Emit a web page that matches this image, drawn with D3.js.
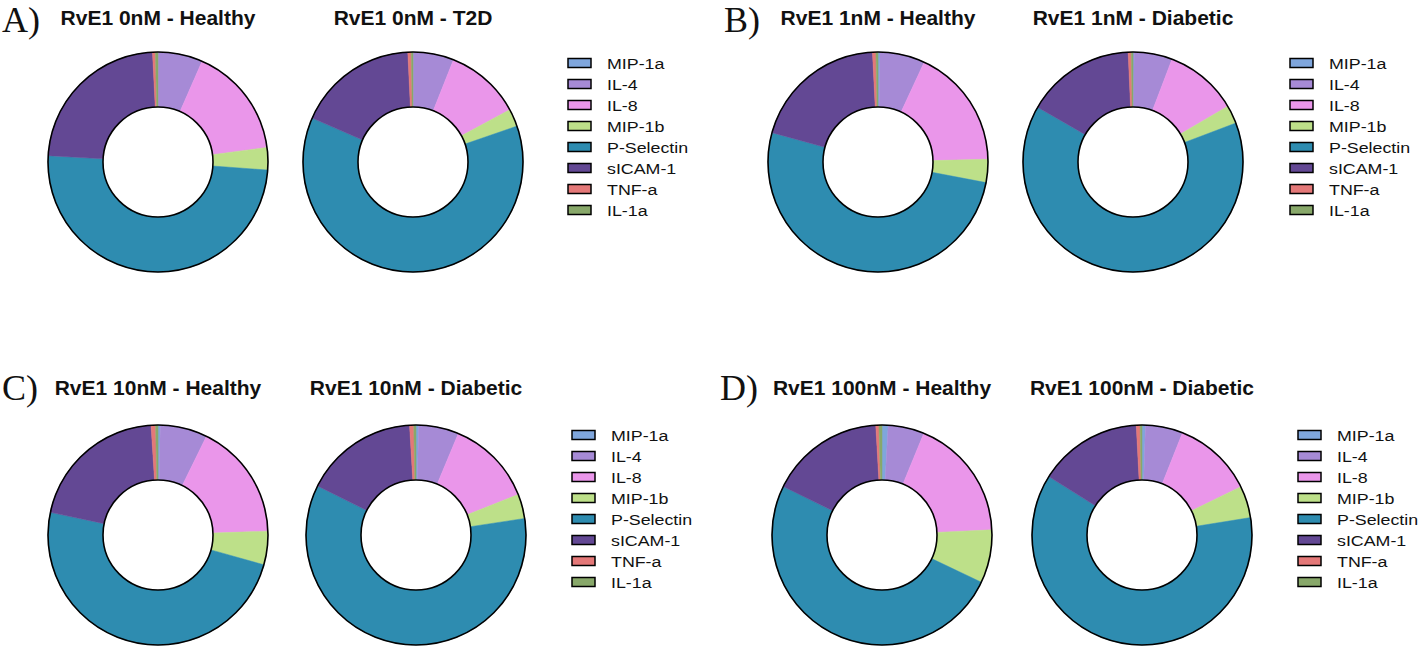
<!DOCTYPE html>
<html>
<head>
<meta charset="utf-8">
<script src="https://cdn.jsdelivr.net/npm/d3@7"></script>
<style>
  body { margin: 0; background: #fff; }
  svg { display: block; }
</style>
</head>
<body>
<svg id="chart"></svg>
<script>
let width = 1418;
let height = 647;

// cytokines, clockwise from 12 o'clock
let cytokines = ['MIP-1a', 'IL-4', 'IL-8', 'MIP-1b', 'P-Selectin', 'sICAM-1', 'TNF-a', 'IL-1a'];
let colors = ['#7fa6dc', '#a68ad6', '#ea96ea', '#bde089', '#2e8cb0', '#634894', '#e47878', '#88a86a'];

// percent of total
let healthy0 = [0.05, 6.55, 16.4, 3.3, 50.0, 23.4, 0.42, 0.38];
let t2d0 = [0.1, 5.9, 11.1, 2.6, 61.8, 17.7, 0.5, 0.25];
let healthy1 = [0.3, 6.6, 17.7, 3.4, 51.3, 19.9, 0.5, 0.3];
let diabetic1 = [0.17, 5.6, 10.75, 2.7, 64.0, 16.0, 0.45, 0.25];
let healthy10 = [0.33, 6.9, 17.1, 4.9, 48.7, 20.6, 0.65, 0.35];
let diabetic10 = [0.39, 5.9, 12.7, 3.6, 59.75, 16.7, 0.6, 0.33];
let healthy100 = [0.9, 5.3, 18.0, 7.8, 50.1, 16.8, 0.45, 0.45];
let diabetic100 = [0.5, 5.5, 11.75, 4.7, 61.4, 15.25, 0.55, 0.28];

let panelLetters = ['A)', 'B)', 'C)', 'D)'];
let titles = [
  ['RvE1 0nM - Healthy', 'RvE1 0nM - T2D'],
  ['RvE1 1nM - Healthy', 'RvE1 1nM - Diabetic'],
  ['RvE1 10nM - Healthy', 'RvE1 10nM - Diabetic'],
  ['RvE1 100nM - Healthy', 'RvE1 100nM - Diabetic']
];
let panelValues = [
  [healthy0, t2d0],
  [healthy1, diabetic1],
  [healthy10, diabetic10],
  [healthy100, diabetic100]
];

// layout of each panel (positions only)
let panels = [
  { letterX: 2, letterY: 32, titleY: 25, cy: 162, cx: [158, 413], legX: 568, legY: 63 },
  { letterX: 724, letterY: 32, titleY: 25, cy: 162, cx: [878, 1133], legX: 1290, legY: 63 },
  { letterX: 2, letterY: 400, titleY: 395, cy: 535, cx: [158, 416], legX: 572, legY: 435 },
  { letterX: 720, letterY: 400, titleY: 395, cy: 535, cx: [882, 1142], legX: 1298, legY: 435 }
];

let outerR = 110;
let innerR = 55;

let color = d3.scaleOrdinal().domain(cytokines).range(colors);

let pie = d3.pie().sort(null).value(d => d.value);
let arc = d3.arc().innerRadius(innerR).outerRadius(outerR);

let svg = d3.select('#chart')
  .attr('width', width)
  .attr('height', height);

panels.forEach((p, i) => {
  let g = svg.append('g');

  g.append('text')
    .attr('x', p.letterX)
    .attr('y', p.letterY)
    .attr('font-family', 'Liberation Serif, Times New Roman, serif')
    .attr('font-size', 36)
    .attr('fill', '#111')
    .text(panelLetters[i]);

  panelValues[i].forEach((vals, j) => {
    let data = cytokines.map((c, k) => ({ name: c, value: vals[k] }));
    let cx = p.cx[j];

    g.append('text')
      .attr('x', cx)
      .attr('y', p.titleY)
      .attr('text-anchor', 'middle')
      .attr('font-family', 'Liberation Sans, Arial, sans-serif')
      .attr('font-weight', 'bold')
      .attr('font-size', 21)
      .attr('fill', '#111')
      .text(titles[i][j]);

    let donut = g.append('g')
      .attr('transform', `translate(${cx},${p.cy})`);

    donut.selectAll('path')
      .data(pie(data))
      .enter()
      .append('path')
      .attr('d', arc)
      .attr('fill', d => color(d.data.name))
      .attr('stroke', d => color(d.data.name))
      .attr('stroke-width', 0.5);

    donut.append('circle')
      .attr('r', outerR)
      .attr('fill', 'none')
      .attr('stroke', '#000')
      .attr('stroke-width', 1.6);

    donut.append('circle')
      .attr('r', innerR)
      .attr('fill', '#fff')
      .attr('stroke', '#000')
      .attr('stroke-width', 1.6);
  });

  // legend
  let leg = g.selectAll('.leg')
    .data(cytokines)
    .enter()
    .append('g')
    .attr('transform', (d, k) => `translate(${p.legX},${p.legY + k * 21})`);

  leg.append('rect')
    .attr('x', 0)
    .attr('y', -4.5)
    .attr('width', 23)
    .attr('height', 9)
    .attr('fill', d => color(d))
    .attr('stroke', '#000')
    .attr('stroke-width', 1.5);

  leg.append('text')
    .attr('transform', 'translate(39,5.8) scale(1.15,1)')
    .attr('font-family', 'Liberation Sans, Arial, sans-serif')
    .attr('font-size', 15.5)
    .attr('fill', '#111')
    .text(d => d);
});
</script>
</body>
</html>
